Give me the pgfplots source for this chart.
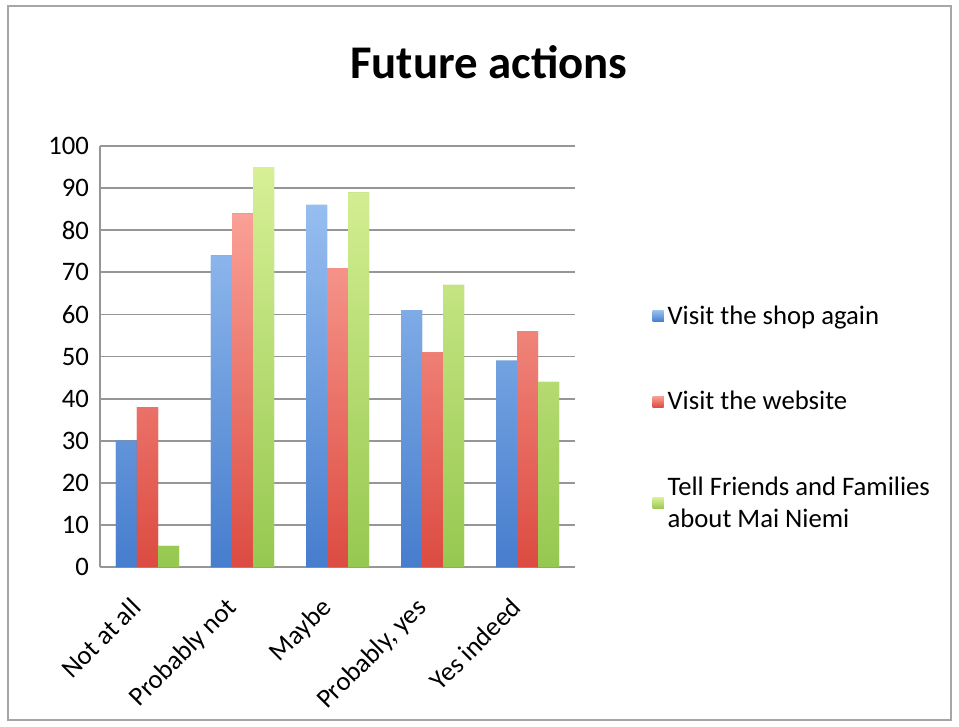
\documentclass[border=0pt]{standalone}
\usepackage{pgfplots}
\pgfplotsset{compat=1.18}
\usepackage{fontspec}
\setmainfont{Carlito}
\definecolor{bluetop}{RGB}{150,190,240}
\definecolor{bluebot}{RGB}{70,125,205}
\definecolor{redtop}{RGB}{250,160,150}
\definecolor{redbot}{RGB}{220,75,65}
\definecolor{greentop}{RGB}{215,240,150}
\definecolor{greenbot}{RGB}{150,200,80}
\definecolor{gridc}{RGB}{150,150,150}
\begin{document}
\begin{tikzpicture}
\path[use as bounding box] (0,0) rectangle (479.5bp,-363.5bp);
\draw[color=gray!70, line width=1.2bp] (4bp,-3bp) rectangle (475.5bp,-360bp);
\node[font=\fontsize{23.5}{26}\selectfont\bfseries, anchor=base] at (244.5bp,-39bp) {Future actions};
\begin{axis}[
  at={(50bp,-283.5bp)}, anchor=south west,
  scale only axis, width=237.5bp, height=210.5bp,
  ybar=0pt, bar width=10.5bp,
  xmin=-0.5, xmax=4.5, ymin=0, ymax=100,
  xtick=data,
  xticklabels={Not at all,Probably not,Maybe,{Probably, yes},Yes indeed},
  xticklabel style={xshift=-9bp, yshift=-13bp, rotate=45, anchor=north east, font=\fontsize{13.4}{15}\selectfont, inner sep=1bp},
  ytick={0,10,...,100},
  /pgf/number format/assume math mode=true,
  yticklabel style={font=\fontsize{13.4}{15}\selectfont, xshift=-2bp},
  ymajorgrids, grid style={gridc, line width=0.9bp},
  axis x line=bottom, axis y line=left,
  axis line style={gridc, line width=0.9bp, -},
  major tick length=0pt,
  tick style={draw=none},
  legend style={at={(1.15,0.64)}, anchor=north west, draw=none, fill=none,
    font=\fontsize{13.4}{16}\selectfont, row sep=28bp,
    cells={align=left}},
  legend cell align=left,
  legend image code/.code={\fill[#1] (0bp,-2.5bp) rectangle (5.5bp,3bp);},
]
\addplot[draw=none, top color=bluetop, bottom color=bluebot, fill=bluebot] coordinates {(0,30) (1,74) (2,86) (3,61) (4,49)};
\addplot[draw=none, top color=redtop, bottom color=redbot, fill=redbot] coordinates {(0,38) (1,84) (2,71) (3,51) (4,56)};
\addplot[draw=none, top color=greentop, bottom color=greenbot, fill=greenbot] coordinates {(0,5) (1,95) (2,89) (3,67) (4,44)};
\legend{Visit the shop again, Visit the website, {Tell Friends and Families\\about Mai Niemi}}
\end{axis}
\end{tikzpicture}
\end{document}
